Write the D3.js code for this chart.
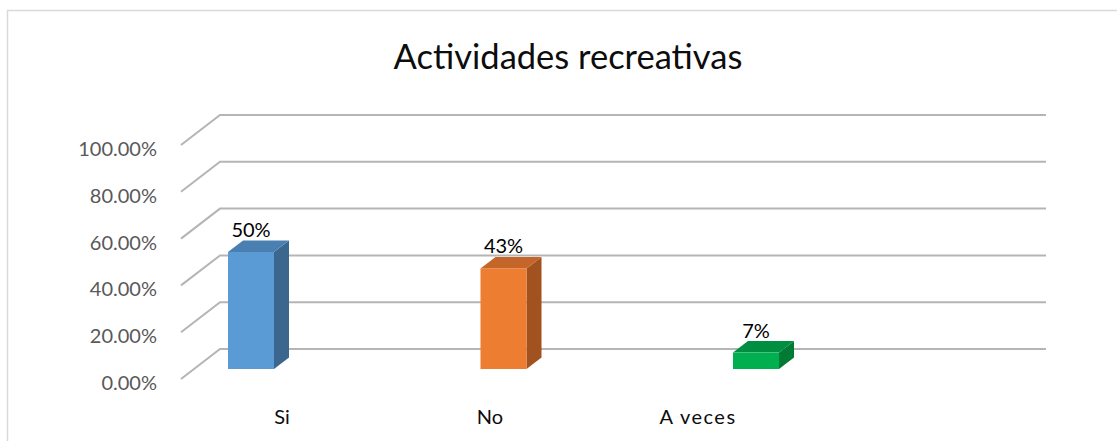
<!DOCTYPE html>
<html>
<head>
<meta charset="utf-8">
<script src="https://cdn.jsdelivr.net/npm/d3@7"></script>
<style>
  body { margin: 0; background: #fff; }
  text { font-family: Lato, "Liberation Sans", sans-serif; }
</style>
</head>
<body>
<svg id="chart" width="1117" height="441"></svg>
<script>
// chart data
var categories = ["Si", "No", "A veces"];
var values = [0.50, 0.43, 0.07];
var valueLabels = ["50%", "43%", "7%"];
var yTicks = [0, 0.2, 0.4, 0.6, 0.8, 1.0];

// colours per bar: front, top, side
var palette = [
  ["#5b9bd5", "#4a7fb2", "#3b668e"],
  ["#ed7d31", "#c4662a", "#a2521e"],
  ["#00b050", "#008f40", "#007a35"]
];

var svg = d3.select("#chart");

// outer border (only top + left show inside the picture)
svg.append("rect")
  .attr("x", 7.5).attr("y", 10.5)
  .attr("width", 1200).attr("height", 500)
  .attr("fill", "none")
  .attr("stroke", "#d9d9d9")
  .attr("stroke-width", 1.5);

// title
svg.append("text")
  .attr("x", 568)
  .attr("y", 69)
  .attr("text-anchor", "middle")
  .style("font-size", "34.5px")
  .style("fill", "#0d0d0d")
  .text("Actividades recreativas");

// y scale on the front plane
var y = d3.scaleLinear().domain([0, 1]).range([379, 145]);
var depth = {dx: 39, dy: -30};       // front -> back wall
var barShift = {dx: 13, dy: -10};    // front -> bar plane
var barDepth = {dx: 15, dy: -11.5};
var frontLeft = 181, backRight = 1046;

// gridlines with 3D diagonal
svg.append("g").selectAll("path")
  .data(yTicks)
  .enter().append("path")
  .attr("d", function (d) {
    var p = d3.path();
    p.moveTo(frontLeft, y(d));
    p.lineTo(frontLeft + depth.dx, y(d) + depth.dy);
    p.lineTo(backRight, y(d) + depth.dy);
    return p.toString();
  })
  .attr("fill", "none")
  .attr("stroke", "#b5b5b5")
  .attr("stroke-width", 2);

// y labels
var yFmt = d3.format(".2%");
svg.append("g").selectAll("text")
  .data(yTicks)
  .enter().append("text")
  .attr("x", 157)
  .attr("y", function (d) { return y(d) + 11; })
  .attr("text-anchor", "end")
  .style("font-size", "20px")
  .style("fill", "#595959")
  .text(function (d) { return yFmt(d); });

// bar centres on the bar plane
var x = d3.scalePoint().domain(categories).range([251, 756]);
var barW = 46;

var bars = svg.append("g").selectAll("g")
  .data(categories)
  .enter().append("g");

function pts(arr) { return arr.map(function (p) { return p.join(","); }).join(" "); }

bars.each(function (c, i) {
  var g = d3.select(this);
  var x0 = x(c) - barW / 2, x1 = x(c) + barW / 2;
  var yTop = y(values[i]) + barShift.dy;
  var yBot = y(0) + barShift.dy;
  // side
  g.append("polygon")
    .attr("points", pts([[x1, yTop], [x1 + barDepth.dx, yTop + barDepth.dy],
      [x1 + barDepth.dx, yBot + barDepth.dy], [x1, yBot]]))
    .attr("fill", palette[i][2]);
  // top
  g.append("polygon")
    .attr("points", pts([[x0, yTop], [x0 + barDepth.dx, yTop + barDepth.dy],
      [x1 + barDepth.dx, yTop + barDepth.dy], [x1, yTop]]))
    .attr("fill", palette[i][1]);
  // front
  g.append("rect")
    .attr("x", x0).attr("y", yTop)
    .attr("width", barW).attr("height", yBot - yTop)
    .attr("fill", palette[i][0]);
  // value label
  g.append("text")
    .attr("x", x(c))
    .attr("y", yTop - 15)
    .attr("text-anchor", "middle")
    .style("font-size", "20px")
    .style("fill", "#000")
    .text(valueLabels[i]);
});

// category labels (the original floor labels are not under the bars)
var xl = d3.scalePoint().domain(categories).range([282, 698]);
svg.append("g").selectAll("text")
  .data(categories)
  .enter().append("text")
  .attr("x", function (d) { return xl(d); })
  .attr("y", 424)
  .attr("text-anchor", "middle")
  .style("font-size", "20px")
  .style("letter-spacing", function (d) { return d === "A veces" ? "1.5px" : "0px"; })
  .style("fill", "#0d0d0d")
  .text(function (d) { return d; });
</script>
</body>
</html>
